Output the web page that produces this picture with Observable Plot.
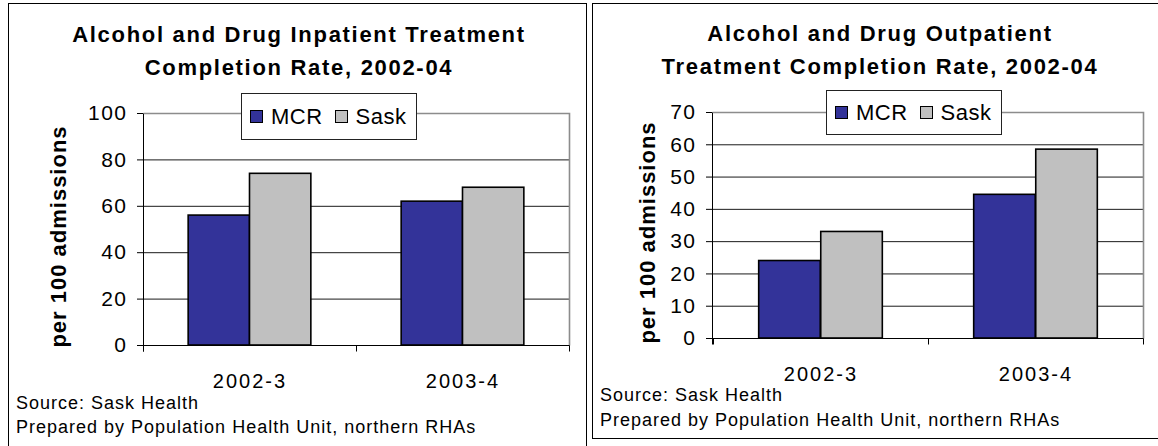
<!DOCTYPE html>
<html>
<head>
<meta charset="utf-8">
<script src="https://cdn.jsdelivr.net/npm/d3@7"></script>
<script src="https://cdn.jsdelivr.net/npm/@observablehq/plot@0.6"></script>
<style>
  body { margin: 0; background: #fff; font-family: "Liberation Sans", Arial, sans-serif; color: #000; }
  #page { position: relative; width: 1158px; height: 446px; overflow: hidden; background: #fff; }
  .panel { position: absolute; border: 1px solid #000; box-sizing: border-box; }
  .chart { position: absolute; top: 0; }
  .chart svg { display: block; background: transparent; max-width: none; }
  .chart svg text { letter-spacing: 1.5px; }
  .chart svg g[aria-label="x-axis tick label"] { font-size: 20px; }
  .chart svg g[aria-label="x-axis tick label"] text { letter-spacing: 2px; }
  .chart svg g[aria-label="text"] text { letter-spacing: 1px; }
  .title { position: absolute; text-align: center; font-weight: bold; font-size: 22px;
           line-height: 33px; letter-spacing: 1.7px; white-space: nowrap; }
  .legend { position: absolute; box-sizing: border-box; border: 1px solid #222; background: #fff;
            display: flex; align-items: center; font-size: 22px; letter-spacing: 0.5px; white-space: nowrap; }
  .legend .sw { width: 13px; height: 13px; box-sizing: border-box; border: 1px solid #000; margin: 0 8px 0 8px; }
  .legend .sw + span { margin-right: 2px; }
  .note { position: absolute; font-size: 18px; line-height: 24px; letter-spacing: 1px; white-space: nowrap; }
</style>
</head>
<body>
<div id="page"></div>
<script>
// Completion rates per 100 admissions, by fiscal year
const categories = ["2002-3", "2003-4"];
const seriesNames = ["MCR", "Sask"];
const seriesColors = ["#333399", "#C0C0C0"];

const inpatientMCR = [56, 62];
const inpatientSask = [74, 68];
const inpatientTicks = [0, 20, 40, 60, 80, 100];

const outpatientMCR = [24, 44.5];
const outpatientSask = [33, 58.5];
const outpatientTicks = [0, 10, 20, 30, 40, 50, 60, 70];

const yLabel = "per 100 admissions";
const sourceLines = ["Source: Sask Health", "Prepared by Population Health Unit, northern RHAs"];

const page = document.getElementById("page");

function addDiv(cls, css, html) {
  const d = document.createElement("div");
  d.className = cls;
  Object.assign(d.style, css);
  if (html != null) d.innerHTML = html;
  page.appendChild(d);
  return d;
}

// Axis lines, grey plot-area border and category-boundary ticks
function frameLines(ticks) {
  return (index, scales, values, dims) => {
    const {width, marginLeft: l, marginRight: r} = dims;
    const yTop = Math.round(scales.y(ticks[ticks.length - 1])) + 0.5;
    const y0 = Math.round(scales.y(0)) + 0.5;
    const xL = l + 0.5, xR = width - r + 0.5;
    const g = d3.create("svg:g").attr("fill", "none");
    g.append("path").attr("stroke", "#8c8c8c").attr("stroke-width", 1.6)
      .attr("d", `M${xL},${yTop}H${xR}V${y0}`);
    g.append("path").attr("stroke", "#000").attr("stroke-width", 1)
      .attr("d", `M${xL},${yTop}V${y0 + 6}M${xL - 6},${y0}H${xR}`);
    const bounds = categories.map((c) => Math.round(scales.x(c)) + 0.5).concat([xR]);
    g.append("path").attr("stroke", "#000").attr("stroke-width", 1)
      .attr("d", bounds.map((x) => `M${x},${y0}V${y0 + 6}`).join(""));
    return g.node();
  };
}

function buildChart(cfg) {
  const rows = (vals, s) => categories.map((c, i) => ({category: c, series: s, value: vals[i]}));
  const mcr = rows(cfg.mcr, seriesNames[0]);
  const sask = rows(cfg.sask, seriesNames[1]);
  const bw = (cfg.width - cfg.mL - cfg.mR) / categories.length;
  const gap = 0.212 * bw;
  const half = 0.5 * bw;
  const maxTick = cfg.ticks[cfg.ticks.length - 1];

  const svg = Plot.plot({
    width: cfg.width,
    height: cfg.height,
    marginLeft: cfg.mL,
    marginRight: cfg.mR,
    marginTop: cfg.mT,
    marginBottom: cfg.mB,
    style: {fontFamily: "'Liberation Sans', Arial, sans-serif", fontSize: "21px", background: "transparent", color: "#000"},
    x: {domain: categories, padding: 0, tickSize: 0, tickPadding: 28, label: null},
    y: {domain: [0, maxTick], ticks: cfg.ticks, tickSize: 6, tickPadding: 10, tickFormat: (d) => String(d), label: null},
    marks: [
      Plot.ruleY(cfg.ticks.slice(1, -1), {stroke: "#1a1a1a", strokeWidth: 1}),
      Plot.barY(mcr, {x: "category", y: "value", fill: seriesColors[0], stroke: "#000", strokeWidth: 1.6,
                      insetLeft: gap, insetRight: half}),
      Plot.barY(sask, {x: "category", y: "value", fill: seriesColors[1], stroke: "#000", strokeWidth: 1.6,
                       insetLeft: half, insetRight: gap}),
      frameLines(cfg.ticks),
      Plot.text([yLabel], {frameAnchor: "left", textAnchor: "middle", rotate: -90, dx: cfg.labelDx, dy: cfg.labelDy,
                           fontWeight: "bold", fontSize: 22})
    ]
  });
  const holder = addDiv("chart", {left: cfg.left + "px", width: cfg.width + "px"});
  holder.appendChild(svg);

  addDiv("title", {left: cfg.titleLeft + "px", width: cfg.titleWidth + "px", top: cfg.titleTop + "px"},
         cfg.title.join("<br>"));

  addDiv("legend", {left: cfg.legend[0] + "px", top: cfg.legend[1] + "px", width: cfg.legend[2] + "px", height: cfg.legend[3] + "px"},
    seriesNames.map((s, i) => `<div class="sw" style="background:${seriesColors[i]}${i ? ";margin-left:10px" : ""}"></div><span>${s}</span>`).join(""));

  addDiv("note", {left: cfg.noteLeft + "px", top: cfg.noteTop + "px", lineHeight: cfg.noteLH + "px"},
         sourceLines.join("<br>"));
}

// Panel borders
addDiv("panel", {left: "8px", top: "3px", width: "579px", height: "470px"});
addDiv("panel", {left: "592px", top: "3px", width: "600px", height: "436px"});

buildChart({
  title: ["Alcohol and Drug Inpatient Treatment", "Completion Rate, 2002-04"],
  mcr: inpatientMCR, sask: inpatientSask, ticks: inpatientTicks,
  left: 0, width: 586, height: 446, mL: 143, mR: 17, mT: 113, mB: 101,
  labelDx: -85, labelDy: 7,
  titleLeft: 20, titleWidth: 558, titleTop: 18,
  legend: [241, 93, 176, 47],
  noteLeft: 16, noteTop: 391, noteLH: 24
});

buildChart({
  title: ["Alcohol and Drug Outpatient", "Treatment Completion Rate, 2002-04"],
  mcr: outpatientMCR, sask: outpatientSask, ticks: outpatientTicks,
  left: 593, width: 565, height: 446, mL: 119, mR: 15, mT: 112, mB: 108,
  labelDx: -65, labelDy: 7,
  titleLeft: 600, titleWidth: 560, titleTop: 17,
  legend: [826, 90, 176, 45],
  noteLeft: 600, noteTop: 383, noteLH: 25
});
</script>
</body>
</html>
